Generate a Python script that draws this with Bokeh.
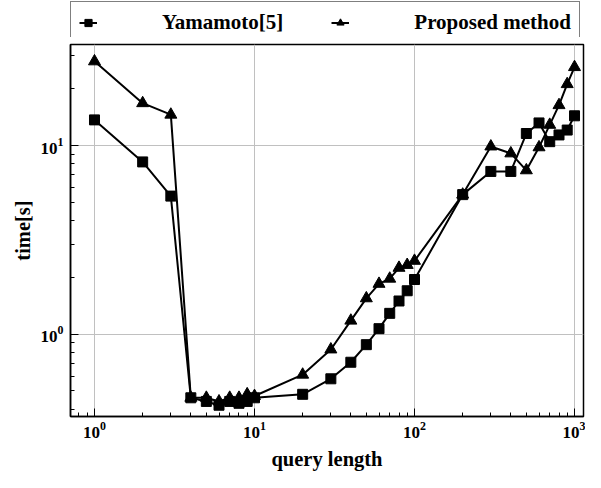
from bokeh.plotting import figure
from bokeh.layouts import column
from bokeh.models import Legend, LegendItem, FixedTicker, Range1d
from bokeh.embed import file_html
from bokeh.resources import INLINE

query_length = [1, 2, 3, 4, 5, 6, 7, 8, 9, 10, 20, 30, 40, 50, 60, 70, 80, 90, 100,
                200, 300, 400, 500, 600, 700, 800, 900, 1000]
yamamoto = [13.7, 8.2, 5.4, 0.46, 0.44, 0.42, 0.44, 0.43, 0.44, 0.46, 0.48, 0.58, 0.71,
            0.88, 1.07, 1.29, 1.5, 1.7, 1.95, 5.5, 7.3, 7.3, 11.6, 13.2, 10.5, 11.4, 12.1, 14.4]
proposed = [28.0, 16.8, 14.6, 0.46, 0.46, 0.44, 0.46, 0.46, 0.48, 0.47, 0.61, 0.83, 1.18,
            1.55, 1.85, 1.97, 2.25, 2.33, 2.45, 5.5, 9.9, 9.1, 7.4, 9.8, 12.9, 16.4, 21.2, 26.1]
series_names = ["Yamamoto[5]", "Proposed method"]
x_label = "query length"
y_label = "time[s]"
x_major = [1, 10, 100, 1000]
x_minor = [0.8, 0.9] + [m * d for d in (1, 10, 100) for m in range(2, 10)]
y_major = [1, 10]
y_minor = [0.4, 0.5, 0.6, 0.7, 0.8, 0.9] + list(range(2, 10)) + [20, 30]

FONT = "Liberation Serif"

# ---------- main chart ----------
p = figure(width=585, height=435, x_axis_type="log", y_axis_type="log",
           x_range=(0.708, 1138), y_range=(0.366, 34.4),
           output_backend="svg", toolbar_location=None,
           min_border_left=70, min_border_right=2, min_border_top=7, min_border_bottom=53)

p.outline_line_color = "black"
p.outline_line_width = 1.5
p.background_fill_color = "white"
p.border_fill_color = "white"

p.xaxis.ticker = FixedTicker(ticks=x_major, minor_ticks=x_minor)
p.yaxis.ticker = FixedTicker(ticks=y_major, minor_ticks=y_minor)

for ax in (p.xaxis[0], p.yaxis[0]):
    ax.axis_line_color = "black"
    ax.axis_line_width = 1.5
    ax.major_tick_in = 8
    ax.major_tick_out = 0
    ax.minor_tick_in = 4
    ax.minor_tick_out = 0
    ax.major_tick_line_color = "black"
    ax.minor_tick_line_color = "black"
    ax.major_label_text_font = FONT
    ax.major_label_text_font_style = "bold"
    ax.major_label_text_font_size = "17px"
    ax.major_label_text_color = "black"
    ax.axis_label_text_font = FONT
    ax.axis_label_text_font_style = "bold"
    ax.axis_label_text_color = "black"
    ax.axis_label_text_font_size = "20.5px"

p.xaxis.major_label_standoff = 5
p.yaxis.major_label_standoff = 7
p.xaxis.axis_label = x_label
p.xaxis.axis_label_standoff = 7
p.yaxis.axis_label = y_label
p.yaxis.axis_label_standoff = 4

p.grid.grid_line_color = "#c0c0c0"
p.grid.grid_line_width = 1

p.line(query_length, yamamoto, line_color="black", line_width=2)
p.scatter(query_length, yamamoto, marker="square", size=10,
          fill_color="black", line_color="black")
p.line(query_length, proposed, line_color="black", line_width=2)
p.scatter(query_length, proposed, marker="triangle", size=12,
          fill_color="black", line_color="black")

# ---------- legend strip above the chart ----------
lg = figure(width=585, height=37, x_range=Range1d(0, 0.5), y_range=Range1d(0, 0.5),
            x_axis_location=None, y_axis_location=None,
            output_backend="svg", toolbar_location=None,
            min_border_left=70, min_border_right=0, min_border_top=1, min_border_bottom=0)
lg.grid.visible = False
lg.outline_line_color = None
lg.border_fill_color = "white"
lg.background_fill_color = "white"

# same series (outside this strip's ranges) so that the legend draws their glyphs
d1 = lg.line(query_length, yamamoto, line_color="black", line_width=2)
s1 = lg.scatter(query_length, yamamoto, marker="square", size=10,
                fill_color="black", line_color="black")
d2 = lg.line(query_length, proposed, line_color="black", line_width=2)
s2 = lg.scatter(query_length, proposed, marker="triangle", size=12,
                fill_color="black", line_color="black")

legend = Legend(items=[LegendItem(label=series_names[0], renderers=[d1, s1]),
                       LegendItem(label=series_names[1], renderers=[d2, s2])],
                orientation="horizontal", location="top_left")
legend.label_text_font = FONT
legend.label_text_font_style = "bold"
legend.label_text_font_size = "21px"
legend.label_text_color = "black"
legend.glyph_width = 18
legend.glyph_height = 23
legend.label_height = 23
legend.label_standoff = 65
legend.spacing = 48
legend.padding = 8
legend.margin = 0
legend.border_line_color = "black"
legend.border_line_width = 1.5
legend.background_fill_color = "white"
legend.background_fill_alpha = 1
lg.add_layout(legend)

layout = column(lg, p, spacing=0)
open("out.html", "w").write(file_html(layout, INLINE))
